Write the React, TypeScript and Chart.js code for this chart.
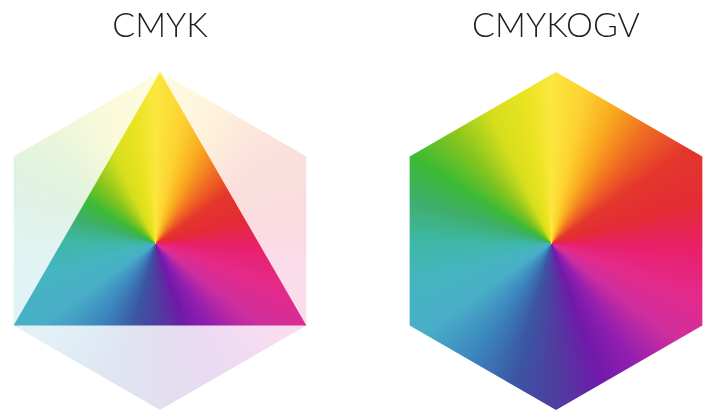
import React, { useEffect, useRef } from 'react';
import { Chart, registerables } from 'chart.js';

Chart.register(...registerables);

// ---- data ----
const primaries = ['Y', 'O', 'M', 'V', 'C', 'G'];
const cmykGamut = [1, 0.5, 1, 0.5, 1, 0.5];
const fullGamut = [1, 1, 1, 1, 1, 1];
const chartTitles = ['CMYK', 'CMYKOGV'];

// ---- styles: hue wheel (degrees clockwise from top) ----
const HUE_ANGLES = [0, 12, 25, 40, 55, 75, 92, 110, 128, 145, 160, 178, 195, 215, 235, 255, 272, 288, 302, 318, 335, 350, 360];
const HUE_COLORS = [
  '#FBE73E', '#FDD231', '#F9A91F', '#F06B22', '#E4372C', '#E32B35', '#E8206A', '#E42A8A',
  '#CE2E9E', '#931FB0', '#7119AA', '#4F3D9F', '#3B56A3', '#3C86BE', '#49AEC8', '#45B5C0',
  '#3DB7A3', '#3FAE6A', '#3CBA35', '#86C51E', '#D6DE1D', '#EAE320', '#FBE73E',
];

function withAlpha(hex: string, a: number) {
  const r = parseInt(hex.slice(1, 3), 16);
  const g = parseInt(hex.slice(3, 5), 16);
  const b = parseInt(hex.slice(5, 7), 16);
  return `rgba(${r},${g},${b},${a})`;
}

function conic(chart: any, alpha: number) {
  const s = chart.scales && chart.scales.r;
  if (!s || !chart.chartArea || !(chart.ctx as any).createConicGradient) return withAlpha('#888888', alpha);
  const g = (chart.ctx as any).createConicGradient(-Math.PI / 2, s.xCenter - 4.5, s.yCenter + 2.5);
  HUE_ANGLES.forEach((a, i) => g.addColorStop(a / 360, withAlpha(HUE_COLORS[i], alpha)));
  return g;
}

function makeConfig(title: string, showPartial: boolean): any {
  const datasets: any[] = [];
  if (showPartial) {
    datasets.push({
      label: title,
      data: cmykGamut,
      fill: 'origin',
      borderWidth: 0,
      pointRadius: 0,
      backgroundColor: (c: any) => conic(c.chart, 1),
    });
    datasets.push({
      label: 'reference',
      data: fullGamut,
      fill: 'origin',
      borderWidth: 0,
      pointRadius: 0,
      backgroundColor: (c: any) => conic(c.chart, 0.16),
    });
  } else {
    datasets.push({
      label: title,
      data: fullGamut,
      fill: 'origin',
      borderWidth: 0,
      pointRadius: 0,
      backgroundColor: (c: any) => conic(c.chart, 1),
    });
  }
  return {
    type: 'radar',
    data: { labels: primaries, datasets },
    options: {
      animation: false,
      responsive: false,
      maintainAspectRatio: false,
      layout: { padding: { top: 0, bottom: 2, left: 0, right: 0 } },
      elements: { line: { borderWidth: 0, tension: 0 }, point: { radius: 0, hoverRadius: 0 } },
      plugins: {
        legend: { display: false },
        tooltip: { enabled: false },
        title: {
          display: true,
          text: title,
          color: '#1e1e1e',
          font: { family: 'Lato, "Open Sans", sans-serif', size: 34, weight: 300, lineHeight: 1 },
          padding: { top: 9, bottom: 29 },
        },
      },
      scales: {
        r: {
          display: false,
          min: 0,
          max: 1,
          startAngle: 0,
          ticks: { display: false },
          grid: { display: false },
          angleLines: { display: false },
          pointLabels: { display: false },
        },
      },
    },
  };
}

function RadarCanvas({ title, partial, left }: { title: string; partial: boolean; left: number }) {
  const ref = useRef<HTMLCanvasElement | null>(null);
  useEffect(() => {
    if (!ref.current) return;
    const chart = new Chart(ref.current, makeConfig(title, partial));
    return () => chart.destroy();
  }, [title, partial]);
  return (
    <canvas
      ref={ref}
      width={360}
      height={412}
      style={{ position: 'absolute', left, top: 0, width: 360, height: 412 }}
    />
  );
}

export default function App() {
  return (
    <div
      style={{
        position: 'fixed',
        left: 0,
        top: 0,
        width: 710,
        height: 410,
        overflow: 'hidden',
        background: '#ffffff',
      }}
    >
      <RadarCanvas title={chartTitles[0]} partial={true} left={-20} />
      <RadarCanvas title={chartTitles[1]} partial={false} left={376} />
    </div>
  );
}
